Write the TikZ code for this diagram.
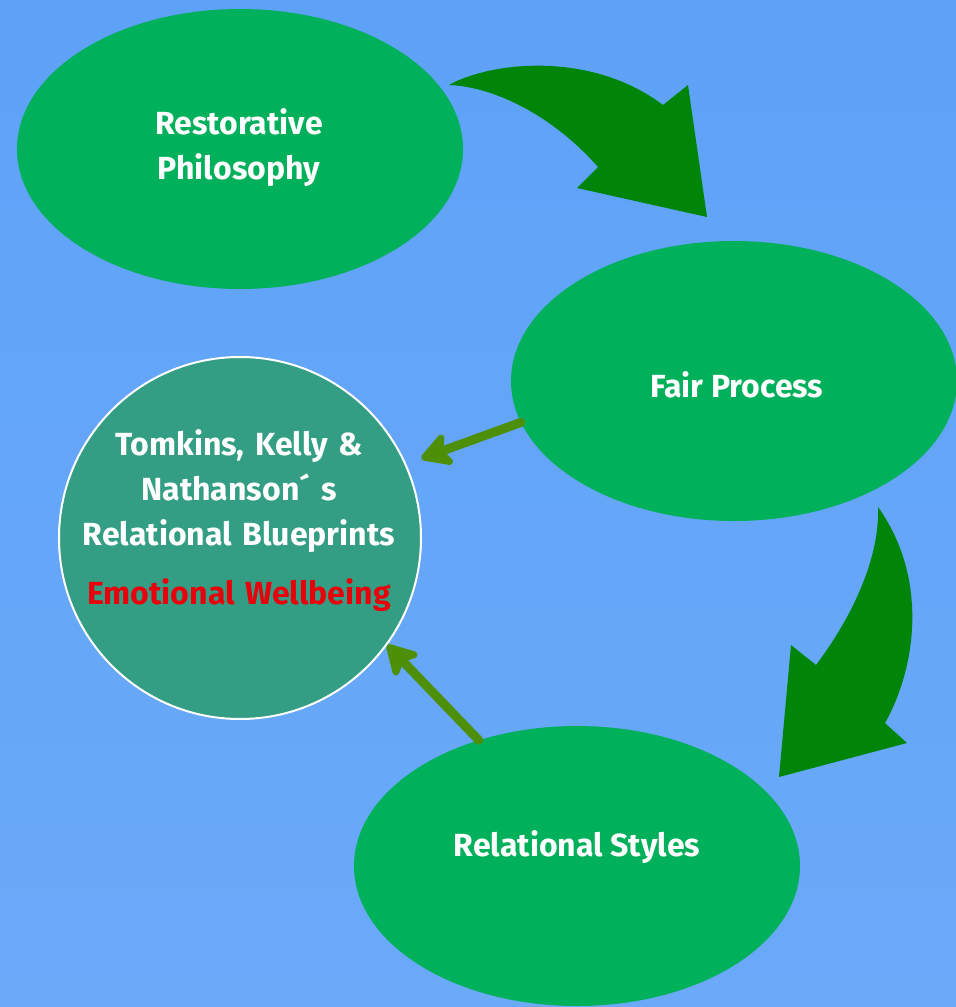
\documentclass[tikz,border=0pt]{standalone}
\usepackage{fontspec}
\setmainfont{Fira Sans}
\usetikzlibrary{shapes.geometric,arrows.meta}
\definecolor{sky}{RGB}{94,162,248}
\definecolor{leaf}{RGB}{0,176,90}
\definecolor{forest}{RGB}{0,133,9}
\definecolor{olive}{RGB}{78,143,8}
\definecolor{teal}{RGB}{52,158,132}
\definecolor{alert}{RGB}{232,0,10}
\tikzset{
  blob/.style={ellipse, fill=leaf, inner sep=0pt, minimum width=446pt, minimum height=280pt},
  hub/.style={circle, fill=teal, draw=white, line width=2pt, inner sep=0pt, minimum size=362pt},
  caption/.style={text=white, font=\bfseries\fontsize{32}{45}\selectfont, align=center, inner sep=0pt},
  bigarrow/.style={fill=forest},
  smallarrow/.style={draw=olive, line width=9pt, line cap=round,
    -{Stealth[length=36pt, width=40pt, inset=9pt, round]}},
}
\begin{document}
\begin{tikzpicture}[x=1pt, y=-1pt]
  \useasboundingbox (0,0) rectangle (956,1007);
  \fill[top color=sky, bottom color=sky!92!white] (0,0) rectangle (956,1007);

  % the four stages
  \node[blob] (rp) at (240,149) {};
  \node[blob] (fp) at (734,381) {};
  \node[blob] (rs) at (577,866) {};
  \node[hub] (hub) at (240,538) {};

  \node[caption] (rptext) at (239,148) {Restorative\\Philosophy};
  \node[caption] (fptext) at (737,385) {Fair Process};
  \node[caption] (rstext) at (577,847) {Relational Styles};
  \node[caption, text width=350pt] (hubtext) at (239,521)
    {Tomkins, Kelly \&\\Nathanson´ s\\Relational Blueprints\\[14pt]
     {\color{alert}Emotional Wellbeing}};

  % curved block arrows between the stages
  \fill[bigarrow] (449,85) .. controls (490,62) and (590,50) .. (663,105)
    -- (688,85) -- (707,217) -- (577,188) -- (598,167)
    .. controls (555,118) and (497,87) .. (449,85) -- cycle;
  \fill[bigarrow] (878,507) .. controls (930,580) and (915,670) .. (885,723)
    -- (907,743) -- (779,777) -- (791,645) -- (816,665)
    .. controls (850,620) and (880,560) .. (878,507) -- cycle;

  % arrows into the blueprint circle
  \draw[smallarrow, shorten >=16pt] (fp.191) -- (hub.24.5);
  \draw[smallarrow] (rs.128) -- (hub.-36.7);
\end{tikzpicture}
\end{document}
